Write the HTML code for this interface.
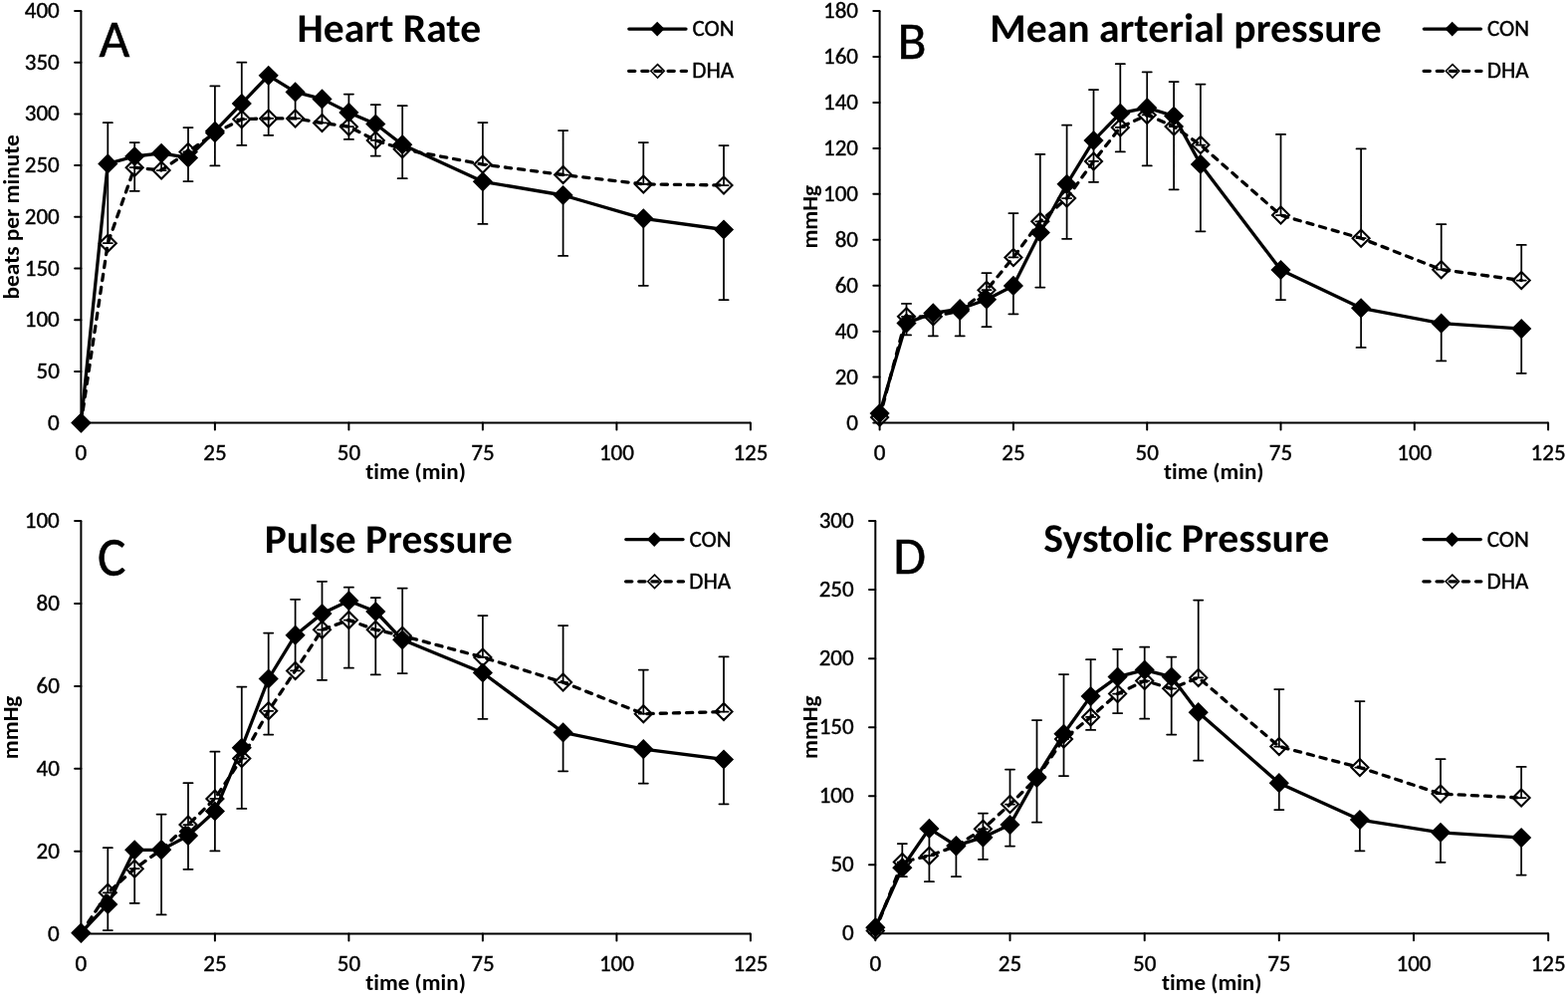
<!DOCTYPE html>
<html><head><meta charset="utf-8"><title>Hemodynamic responses: CON vs DHA</title>
<style>
html,body{margin:0;padding:0;background:#fff;}
svg{display:block;}
text{font-family:Carlito, 'Liberation Sans', sans-serif;fill:#000;font-variant-ligatures:none;font-feature-settings:'liga' 0,'clig' 0;}
.ax{fill:none;stroke:#000;stroke-width:2;}
.tk{fill:none;stroke:#000;stroke-width:2;stroke-linecap:round;}
.yl{font-size:23px;text-anchor:end;stroke:#000;stroke-width:0.4px;}
.xl{font-size:23px;text-anchor:middle;stroke:#000;stroke-width:0.4px;}
.at{font-size:23px;font-weight:bold;text-anchor:middle;}
.ti{font-size:41.5px;text-rendering:geometricPrecision;font-weight:bold;}
.lt{font-size:53.3px;stroke:#000;stroke-width:0.5px;}
.lg{font-size:23px;stroke:#000;stroke-width:0.4px;}
.eb{fill:none;stroke:#000;stroke-width:1.75;stroke-linecap:round;}
.dl{fill:none;stroke:#000;stroke-width:3.3;stroke-dasharray:6.2 6.95;stroke-linecap:round;stroke-linejoin:round;}
.cl{fill:none;stroke:#000;stroke-width:3.3;stroke-linecap:round;stroke-linejoin:round;}
.om{fill:none;stroke:#000;stroke-width:2.1;stroke-linejoin:miter;}
.fm{fill:#000;stroke:none;}
.lom{fill:none;stroke:#000;stroke-width:1.6;stroke-linejoin:miter;}
</style></head>
<body>
<svg width="1575" height="1001" viewBox="0 0 1575 1001">
<rect width="1575" height="1001" fill="#fff"/>
<g id="pA">
<path d="M81.4 11V424.6H753.9" class="ax"/>
<path d="M75.1 424.6H81.4M75.1 372.9H81.4M75.1 321.2H81.4M75.1 269.5H81.4M75.1 217.8H81.4M75.1 166.1H81.4M75.1 114.4H81.4M75.1 62.7H81.4M75.1 11H81.4M81.4 424.6V431.6M215.9 424.6V431.6M350.4 424.6V431.6M484.9 424.6V431.6M619.4 424.6V431.6M753.9 424.6V431.6" class="tk"/>
<text x="59.8" y="431.6" class="yl" textLength="11.7" lengthAdjust="spacingAndGlyphs">0</text>
<text x="59.8" y="379.9" class="yl" textLength="23.3" lengthAdjust="spacingAndGlyphs">50</text>
<text x="59.8" y="328.2" class="yl" textLength="35" lengthAdjust="spacingAndGlyphs">100</text>
<text x="59.8" y="276.5" class="yl" textLength="35" lengthAdjust="spacingAndGlyphs">150</text>
<text x="59.8" y="224.8" class="yl" textLength="35" lengthAdjust="spacingAndGlyphs">200</text>
<text x="59.8" y="173.1" class="yl" textLength="35" lengthAdjust="spacingAndGlyphs">250</text>
<text x="59.8" y="121.4" class="yl" textLength="35" lengthAdjust="spacingAndGlyphs">300</text>
<text x="59.8" y="69.7" class="yl" textLength="35" lengthAdjust="spacingAndGlyphs">350</text>
<text x="59.8" y="18" class="yl" textLength="35" lengthAdjust="spacingAndGlyphs">400</text>
<text x="81.4" y="461.8" class="xl" textLength="11.7" lengthAdjust="spacingAndGlyphs">0</text>
<text x="215.9" y="461.8" class="xl" textLength="23.3" lengthAdjust="spacingAndGlyphs">25</text>
<text x="350.4" y="461.8" class="xl" textLength="23.3" lengthAdjust="spacingAndGlyphs">50</text>
<text x="484.9" y="461.8" class="xl" textLength="23.3" lengthAdjust="spacingAndGlyphs">75</text>
<text x="619.4" y="461.8" class="xl" textLength="35" lengthAdjust="spacingAndGlyphs">100</text>
<text x="753.9" y="461.8" class="xl" textLength="35" lengthAdjust="spacingAndGlyphs">125</text>
<text transform="translate(18.9 217.8) rotate(-90)" class="at" textLength="165.2" lengthAdjust="spacingAndGlyphs">beats per minute</text>
<text x="417.6" y="481.2" class="at" text-anchor="middle" textLength="100.5" lengthAdjust="spacingAndGlyphs">time (min)</text>
<text transform="translate(298.5 41.7) scale(1 0.985)" class="ti" textLength="184.6" lengthAdjust="spacingAndGlyphs">Heart Rate</text>
<text transform="translate(99.5 56.9) scale(1.0 1.0)" class="lt" textLength="30.84" lengthAdjust="spacingAndGlyphs">A</text>
<path d="M108.3 244.2V123.2M103.7 123.2H112.9M135.2 168.2V143M130.6 143H139.8M135.2 157V191.8M130.6 191.8H139.8M162.1 171V153.8M189 152.4V128.1M184.4 128.1H193.6M189 158.4V182M184.4 182H193.6M215.9 133.5V86.4M211.3 86.4H220.5M215.9 131.7V166.4M211.3 166.4H220.5M242.8 119.7V62.7M238.2 62.7H247.4M242.8 103.9V145.9M238.2 145.9H247.4M269.7 118.9V75.8M269.7 75.8V135.8M265.1 135.8H274.3M296.6 118.9V92.4M323.5 123.4V99.4M350.4 127.2V94.5M345.8 94.5H355M350.4 112.9V139.9M345.8 139.9H355M377.3 140.9V105.2M372.7 105.2H381.9M377.3 124.5V156.5M372.7 156.5H381.9M404.2 149.7V106.2M399.6 106.2H408.8M404.2 145.2V179.2M399.6 179.2H408.8M484.9 165.1V123M480.3 123H489.5M484.9 182.3V224.9M480.3 224.9H489.5M565.6 175.5V131M561 131H570.2M565.6 196V256.9M561 256.9H570.2M646.3 184.9V143M641.7 143H650.9M646.3 219.3V286.8M641.7 286.8H650.9M727 186V146M722.4 146H731.6M727 230.5V301.2M722.4 301.2H731.6" class="eb"/>
<polyline points="81.4,424.6 108.3,244.2 135.2,168.2 162.1,171 189,152.4 215.9,133.5 242.8,119.7 269.7,118.9 296.6,118.9 323.5,123.4 350.4,127.2 377.3,140.9 404.2,149.7 484.9,165.1 565.6,175.5 646.3,184.9 727,186" class="dl"/>
<polyline points="81.4,424.6 108.3,164.4 135.2,157 162.1,153.8 189,158.4 215.9,131.7 242.8,103.9 269.7,75.8 296.6,92.4 323.5,99.4 350.4,112.9 377.3,124.5 404.2,145.2 484.9,182.3 565.6,196 646.3,219.3 727,230.5" class="cl"/>
<path d="M81.4 416.1L89.9 424.6L81.4 433.1L72.9 424.6ZM108.3 235.7L116.8 244.2L108.3 252.7L99.8 244.2ZM135.2 159.7L143.7 168.2L135.2 176.7L126.7 168.2ZM162.1 162.5L170.6 171L162.1 179.5L153.6 171ZM189 143.9L197.5 152.4L189 160.9L180.5 152.4ZM215.9 125L224.4 133.5L215.9 142L207.4 133.5ZM242.8 111.2L251.3 119.7L242.8 128.2L234.3 119.7ZM269.7 110.4L278.2 118.9L269.7 127.4L261.2 118.9ZM296.6 110.4L305.1 118.9L296.6 127.4L288.1 118.9ZM323.5 114.9L332 123.4L323.5 131.9L315 123.4ZM350.4 118.7L358.9 127.2L350.4 135.7L341.9 127.2ZM377.3 132.4L385.8 140.9L377.3 149.4L368.8 140.9ZM404.2 141.2L412.7 149.7L404.2 158.2L395.7 149.7ZM484.9 156.6L493.4 165.1L484.9 173.6L476.4 165.1ZM565.6 167L574.1 175.5L565.6 184L557.1 175.5ZM646.3 176.4L654.8 184.9L646.3 193.4L637.8 184.9ZM727 177.5L735.5 186L727 194.5L718.5 186Z" class="om"/>
<path d="M103.7 244.2H112.9M130.6 168.2H139.8M157.5 171H166.7M184.4 152.4H193.6M211.3 133.5H220.5M238.2 119.7H247.4M265.1 118.9H274.3M292 118.9H301.2M318.9 123.4H328.1M345.8 127.2H355M372.7 140.9H381.9M399.6 149.7H408.8M480.3 165.1H489.5M561 175.5H570.2M641.7 184.9H650.9M722.4 186H731.6" class="eb"/>
<path d="M81.4 414.5L91.5 424.6L81.4 434.7L71.3 424.6ZM108.3 154.3L118.4 164.4L108.3 174.5L98.2 164.4ZM135.2 146.9L145.3 157L135.2 167.1L125.1 157ZM162.1 143.7L172.2 153.8L162.1 163.9L152 153.8ZM189 148.3L199.1 158.4L189 168.5L178.9 158.4ZM215.9 121.6L226 131.7L215.9 141.8L205.8 131.7ZM242.8 93.8L252.9 103.9L242.8 114L232.7 103.9ZM269.7 65.7L279.8 75.8L269.7 85.9L259.6 75.8ZM296.6 82.3L306.7 92.4L296.6 102.5L286.5 92.4ZM323.5 89.3L333.6 99.4L323.5 109.5L313.4 99.4ZM350.4 102.8L360.5 112.9L350.4 123L340.3 112.9ZM377.3 114.4L387.4 124.5L377.3 134.6L367.2 124.5ZM404.2 135.1L414.3 145.2L404.2 155.3L394.1 145.2ZM484.9 172.2L495 182.3L484.9 192.4L474.8 182.3ZM565.6 185.9L575.7 196L565.6 206.1L555.5 196ZM646.3 209.2L656.4 219.3L646.3 229.4L636.2 219.3ZM727 220.4L737.1 230.5L727 240.6L716.9 230.5Z" class="fm"/>
<path d="M631.8 29.1H689" class="cl"/>
<path d="M660.2 21.8L667.5 29.1L660.2 36.4L652.9 29.1Z" class="fm"/>
<path d="M631.6 71.3H689.5" class="dl"/>
<path d="M660.5 64.6L667.2 71.3L660.5 78L653.8 71.3Z" class="lom"/>
<text x="695.4" y="36" class="lg" textLength="42.1" lengthAdjust="spacingAndGlyphs">CON</text>
<text x="695.3" y="78.1" class="lg" textLength="41.8" lengthAdjust="spacingAndGlyphs">DHA</text>
</g>
<g id="pB">
<path d="M883.6 11V424.6H1555.1" class="ax"/>
<path d="M877.3 424.6H883.6M877.3 378.6H883.6M877.3 332.7H883.6M877.3 286.7H883.6M877.3 240.8H883.6M877.3 194.8H883.6M877.3 148.9H883.6M877.3 102.9H883.6M877.3 57H883.6M877.3 11H883.6M883.6 424.6V431.6M1017.9 424.6V431.6M1152.2 424.6V431.6M1286.5 424.6V431.6M1420.8 424.6V431.6M1555.1 424.6V431.6" class="tk"/>
<text x="862" y="431.6" class="yl" textLength="11.7" lengthAdjust="spacingAndGlyphs">0</text>
<text x="862" y="385.6" class="yl" textLength="23.3" lengthAdjust="spacingAndGlyphs">20</text>
<text x="862" y="339.7" class="yl" textLength="23.3" lengthAdjust="spacingAndGlyphs">40</text>
<text x="862" y="293.7" class="yl" textLength="23.3" lengthAdjust="spacingAndGlyphs">60</text>
<text x="862" y="247.8" class="yl" textLength="23.3" lengthAdjust="spacingAndGlyphs">80</text>
<text x="862" y="201.8" class="yl" textLength="35" lengthAdjust="spacingAndGlyphs">100</text>
<text x="862" y="155.9" class="yl" textLength="35" lengthAdjust="spacingAndGlyphs">120</text>
<text x="862" y="109.9" class="yl" textLength="35" lengthAdjust="spacingAndGlyphs">140</text>
<text x="862" y="64" class="yl" textLength="35" lengthAdjust="spacingAndGlyphs">160</text>
<text x="862" y="18" class="yl" textLength="35" lengthAdjust="spacingAndGlyphs">180</text>
<text x="883.6" y="461.8" class="xl" textLength="11.7" lengthAdjust="spacingAndGlyphs">0</text>
<text x="1017.9" y="461.8" class="xl" textLength="23.3" lengthAdjust="spacingAndGlyphs">25</text>
<text x="1152.2" y="461.8" class="xl" textLength="23.3" lengthAdjust="spacingAndGlyphs">50</text>
<text x="1286.5" y="461.8" class="xl" textLength="23.3" lengthAdjust="spacingAndGlyphs">75</text>
<text x="1420.8" y="461.8" class="xl" textLength="35" lengthAdjust="spacingAndGlyphs">100</text>
<text x="1555.1" y="461.8" class="xl" textLength="35" lengthAdjust="spacingAndGlyphs">125</text>
<text transform="translate(821.1 217.8) rotate(-90)" class="at" textLength="63.6" lengthAdjust="spacingAndGlyphs">mmHg</text>
<text x="1219.3" y="481.2" class="at" text-anchor="middle" textLength="100.5" lengthAdjust="spacingAndGlyphs">time (min)</text>
<text transform="translate(994.3 41.6) scale(1 0.985)" class="ti" textLength="393.5" lengthAdjust="spacingAndGlyphs">Mean arterial pressure</text>
<text transform="translate(901.5 59.3) scale(1.05 1.0)" class="lt" textLength="27.61" lengthAdjust="spacingAndGlyphs">B</text>
<path d="M910.5 317.8V304.9M905.9 304.9H915.1M910.5 324.4V336.4M905.9 336.4H915.1M937.3 317.8V314.4M937.3 314.4V337.3M932.7 337.3H941.9M964.2 312.1V310.2M964.2 310.2V337.3M959.6 337.3H968.8M991 291.2V274.2M986.4 274.2H995.6M991 300.7V328.2M986.4 328.2H995.6M1017.9 258.4V214M1013.3 214H1022.5M1017.9 286.9V315.3M1013.3 315.3H1022.5M1044.8 222.3V154.9M1040.2 154.9H1049.4M1044.8 233.5V288.5M1040.2 288.5H1049.4M1071.6 199.1V125.7M1067 125.7H1076.2M1071.6 184.8V239.8M1067 239.8H1076.2M1098.5 161.9V90M1093.9 90H1103.1M1098.5 141.1V182.8M1093.9 182.8H1103.1M1125.3 127.9V64.2M1120.7 64.2H1129.9M1125.3 113.7V152.4M1120.7 152.4H1129.9M1152.2 115.4V72.3M1147.6 72.3H1156.8M1152.2 108.2V166.4M1147.6 166.4H1156.8M1179.1 127V82M1174.5 82H1183.7M1179.1 116.5V190.3M1174.5 190.3H1183.7M1205.9 145.6V84.5M1201.3 84.5H1210.5M1205.9 164.9V232.3M1201.3 232.3H1210.5M1286.5 216.1V134.9M1281.9 134.9H1291.1M1286.5 271V301M1281.9 301H1291.1M1367.1 239.2V149.4M1362.5 149.4H1371.7M1367.1 309.3V348.9M1362.5 348.9H1371.7M1447.7 270.7V225.2M1443.1 225.2H1452.3M1447.7 324.7V362.4M1443.1 362.4H1452.3M1528.2 281.5V245.9M1523.6 245.9H1532.8M1528.2 330.1V374.8M1523.6 374.8H1532.8" class="eb"/>
<polyline points="883.6,419 910.5,317.8 937.3,317.8 964.2,312.1 991,291.2 1017.9,258.4 1044.8,222.3 1071.6,199.1 1098.5,161.9 1125.3,127.9 1152.2,115.4 1179.1,127 1205.9,145.6 1286.5,216.1 1367.1,239.2 1447.7,270.7 1528.2,281.5" class="dl"/>
<polyline points="883.6,415 910.5,324.4 937.3,314.4 964.2,310.2 991,300.7 1017.9,286.9 1044.8,233.5 1071.6,184.8 1098.5,141.1 1125.3,113.7 1152.2,108.2 1179.1,116.5 1205.9,164.9 1286.5,271 1367.1,309.3 1447.7,324.7 1528.2,330.1" class="cl"/>
<path d="M883.6 410.5L892.1 419L883.6 427.5L875.1 419ZM910.5 309.3L919 317.8L910.5 326.3L902 317.8ZM937.3 309.3L945.8 317.8L937.3 326.3L928.8 317.8ZM964.2 303.6L972.7 312.1L964.2 320.6L955.7 312.1ZM991 282.7L999.5 291.2L991 299.7L982.5 291.2ZM1017.9 249.9L1026.4 258.4L1017.9 266.9L1009.4 258.4ZM1044.8 213.8L1053.3 222.3L1044.8 230.8L1036.3 222.3ZM1071.6 190.6L1080.1 199.1L1071.6 207.6L1063.1 199.1ZM1098.5 153.4L1107 161.9L1098.5 170.4L1090 161.9ZM1125.3 119.4L1133.8 127.9L1125.3 136.4L1116.8 127.9ZM1152.2 106.9L1160.7 115.4L1152.2 123.9L1143.7 115.4ZM1179.1 118.5L1187.6 127L1179.1 135.5L1170.6 127ZM1205.9 137.1L1214.4 145.6L1205.9 154.1L1197.4 145.6ZM1286.5 207.6L1295 216.1L1286.5 224.6L1278 216.1ZM1367.1 230.7L1375.6 239.2L1367.1 247.7L1358.6 239.2ZM1447.7 262.2L1456.2 270.7L1447.7 279.2L1439.2 270.7ZM1528.2 273L1536.7 281.5L1528.2 290L1519.7 281.5Z" class="om"/>
<path d="M905.9 317.8H915.1M932.7 317.8H941.9M959.6 312.1H968.8M986.4 291.2H995.6M1013.3 258.4H1022.5M1040.2 222.3H1049.4M1067 199.1H1076.2M1093.9 161.9H1103.1M1120.7 127.9H1129.9M1147.6 115.4H1156.8M1174.5 127H1183.7M1201.3 145.6H1210.5M1281.9 216.1H1291.1M1362.5 239.2H1371.7M1443.1 270.7H1452.3M1523.6 281.5H1532.8" class="eb"/>
<path d="M883.6 404.9L893.7 415L883.6 425.1L873.5 415ZM910.5 314.3L920.6 324.4L910.5 334.5L900.4 324.4ZM937.3 304.3L947.4 314.4L937.3 324.5L927.2 314.4ZM964.2 300.1L974.3 310.2L964.2 320.3L954.1 310.2ZM991 290.6L1001.1 300.7L991 310.8L980.9 300.7ZM1017.9 276.8L1028 286.9L1017.9 297L1007.8 286.9ZM1044.8 223.4L1054.9 233.5L1044.8 243.6L1034.7 233.5ZM1071.6 174.7L1081.7 184.8L1071.6 194.9L1061.5 184.8ZM1098.5 131L1108.6 141.1L1098.5 151.2L1088.4 141.1ZM1125.3 103.6L1135.4 113.7L1125.3 123.8L1115.2 113.7ZM1152.2 98.1L1162.3 108.2L1152.2 118.3L1142.1 108.2ZM1179.1 106.4L1189.2 116.5L1179.1 126.6L1169 116.5ZM1205.9 154.8L1216 164.9L1205.9 175L1195.8 164.9ZM1286.5 260.9L1296.6 271L1286.5 281.1L1276.4 271ZM1367.1 299.2L1377.2 309.3L1367.1 319.4L1357 309.3ZM1447.7 314.6L1457.8 324.7L1447.7 334.8L1437.6 324.7ZM1528.2 320L1538.3 330.1L1528.2 340.2L1518.1 330.1Z" class="fm"/>
<path d="M1430.3 29.1H1487.5" class="cl"/>
<path d="M1458.7 21.8L1466 29.1L1458.7 36.4L1451.4 29.1Z" class="fm"/>
<path d="M1430.1 71.3H1488" class="dl"/>
<path d="M1459 64.6L1465.7 71.3L1459 78L1452.3 71.3Z" class="lom"/>
<text x="1493.9" y="36" class="lg" textLength="42.1" lengthAdjust="spacingAndGlyphs">CON</text>
<text x="1493.8" y="78.1" class="lg" textLength="41.8" lengthAdjust="spacingAndGlyphs">DHA</text>
</g>
<g id="pC">
<path d="M81.4 523.1V937.6H753.9" class="ax"/>
<path d="M75.1 937.6H81.4M75.1 854.7H81.4M75.1 771.8H81.4M75.1 688.9H81.4M75.1 606H81.4M75.1 523.1H81.4M81.4 937.6V944.6M215.9 937.6V944.6M350.4 937.6V944.6M484.9 937.6V944.6M619.4 937.6V944.6M753.9 937.6V944.6" class="tk"/>
<text x="59.8" y="944.6" class="yl" textLength="11.7" lengthAdjust="spacingAndGlyphs">0</text>
<text x="59.8" y="861.7" class="yl" textLength="23.3" lengthAdjust="spacingAndGlyphs">20</text>
<text x="59.8" y="778.8" class="yl" textLength="23.3" lengthAdjust="spacingAndGlyphs">40</text>
<text x="59.8" y="695.9" class="yl" textLength="23.3" lengthAdjust="spacingAndGlyphs">60</text>
<text x="59.8" y="613" class="yl" textLength="23.3" lengthAdjust="spacingAndGlyphs">80</text>
<text x="59.8" y="530.1" class="yl" textLength="35" lengthAdjust="spacingAndGlyphs">100</text>
<text x="81.4" y="974.8" class="xl" textLength="11.7" lengthAdjust="spacingAndGlyphs">0</text>
<text x="215.9" y="974.8" class="xl" textLength="23.3" lengthAdjust="spacingAndGlyphs">25</text>
<text x="350.4" y="974.8" class="xl" textLength="23.3" lengthAdjust="spacingAndGlyphs">50</text>
<text x="484.9" y="974.8" class="xl" textLength="23.3" lengthAdjust="spacingAndGlyphs">75</text>
<text x="619.4" y="974.8" class="xl" textLength="35" lengthAdjust="spacingAndGlyphs">100</text>
<text x="753.9" y="974.8" class="xl" textLength="35" lengthAdjust="spacingAndGlyphs">125</text>
<text transform="translate(18.4 730.4) rotate(-90)" class="at" textLength="63.6" lengthAdjust="spacingAndGlyphs">mmHg</text>
<text x="417.6" y="994" class="at" text-anchor="middle" textLength="100.5" lengthAdjust="spacingAndGlyphs">time (min)</text>
<text transform="translate(265.8 554.5) scale(1 0.985)" class="ti" textLength="249" lengthAdjust="spacingAndGlyphs">Pulse Pressure</text>
<text transform="translate(97.9 578.3) scale(1.068 1.04)" class="lt" textLength="26.61" lengthAdjust="spacingAndGlyphs">C</text>
<path d="M108.3 896.3V851.2M103.7 851.2H112.9M108.3 907.9V934.1M103.7 934.1H112.9M135.2 872.2V853.3M135.2 853.3V906.8M130.6 906.8H139.8M162.1 853V817.6M157.5 817.6H166.7M162.1 853.3V918.4M157.5 918.4H166.7M189 828.1V786.2M184.4 786.2H193.6M189 839.1V872.8M184.4 872.8H193.6M215.9 801.9V754.7M211.3 754.7H220.5M215.9 814.5V854.4M211.3 854.4H220.5M242.8 761.5V689.6M238.2 689.6H247.4M242.8 750.8V811.9M238.2 811.9H247.4M269.7 713.8V635.6M265.1 635.6H274.3M269.7 681.5V737.6M265.1 737.6H274.3M296.6 673.4V601.8M292 601.8H301.2M323.5 632.3V583.8M318.9 583.8H328.1M323.5 616.1V682.8M318.9 682.8H328.1M350.4 622.6V589.7M345.8 589.7H355M350.4 603.2V670.7M345.8 670.7H355M377.3 632.3V600M372.7 600H381.9M377.3 614V677.4M372.7 677.4H381.9M404.2 638.3V590.5M399.6 590.5H408.8M404.2 642.3V676.1M399.6 676.1H408.8M484.9 659.9V618M480.3 618H489.5M484.9 675.5V721.8M480.3 721.8H489.5M565.6 685.1V628M561 628H570.2M565.6 735.4V774.3M561 774.3H570.2M646.3 716.7V672.6M641.7 672.6H650.9M646.3 752.2V786.5M641.7 786.5H650.9M727 714.6V659.4M722.4 659.4H731.6M727 762.5V807.3M722.4 807.3H731.6" class="eb"/>
<polyline points="81.4,937 108.3,896.3 135.2,872.2 162.1,853 189,828.1 215.9,801.9 242.8,761.5 269.7,713.8 296.6,673.4 323.5,632.3 350.4,622.6 377.3,632.3 404.2,638.3 484.9,659.9 565.6,685.1 646.3,716.7 727,714.6" class="dl"/>
<polyline points="81.4,936.5 108.3,907.9 135.2,853.3 162.1,853.3 189,839.1 215.9,814.5 242.8,750.8 269.7,681.5 296.6,637.7 323.5,616.1 350.4,603.2 377.3,614 404.2,642.3 484.9,675.5 565.6,735.4 646.3,752.2 727,762.5" class="cl"/>
<path d="M81.4 928.5L89.9 937L81.4 945.5L72.9 937ZM108.3 887.8L116.8 896.3L108.3 904.8L99.8 896.3ZM135.2 863.7L143.7 872.2L135.2 880.7L126.7 872.2ZM162.1 844.5L170.6 853L162.1 861.5L153.6 853ZM189 819.6L197.5 828.1L189 836.6L180.5 828.1ZM215.9 793.4L224.4 801.9L215.9 810.4L207.4 801.9ZM242.8 753L251.3 761.5L242.8 770L234.3 761.5ZM269.7 705.3L278.2 713.8L269.7 722.3L261.2 713.8ZM296.6 664.9L305.1 673.4L296.6 681.9L288.1 673.4ZM323.5 623.8L332 632.3L323.5 640.8L315 632.3ZM350.4 614.1L358.9 622.6L350.4 631.1L341.9 622.6ZM377.3 623.8L385.8 632.3L377.3 640.8L368.8 632.3ZM404.2 629.8L412.7 638.3L404.2 646.8L395.7 638.3ZM484.9 651.4L493.4 659.9L484.9 668.4L476.4 659.9ZM565.6 676.6L574.1 685.1L565.6 693.6L557.1 685.1ZM646.3 708.2L654.8 716.7L646.3 725.2L637.8 716.7ZM727 706.1L735.5 714.6L727 723.1L718.5 714.6Z" class="om"/>
<path d="M103.7 896.3H112.9M130.6 872.2H139.8M157.5 853H166.7M184.4 828.1H193.6M211.3 801.9H220.5M238.2 761.5H247.4M265.1 713.8H274.3M292 673.4H301.2M318.9 632.3H328.1M345.8 622.6H355M372.7 632.3H381.9M399.6 638.3H408.8M480.3 659.9H489.5M561 685.1H570.2M641.7 716.7H650.9M722.4 714.6H731.6" class="eb"/>
<path d="M81.4 926.4L91.5 936.5L81.4 946.6L71.3 936.5ZM108.3 897.8L118.4 907.9L108.3 918L98.2 907.9ZM135.2 843.2L145.3 853.3L135.2 863.4L125.1 853.3ZM162.1 843.2L172.2 853.3L162.1 863.4L152 853.3ZM189 829L199.1 839.1L189 849.2L178.9 839.1ZM215.9 804.4L226 814.5L215.9 824.6L205.8 814.5ZM242.8 740.7L252.9 750.8L242.8 760.9L232.7 750.8ZM269.7 671.4L279.8 681.5L269.7 691.6L259.6 681.5ZM296.6 627.6L306.7 637.7L296.6 647.8L286.5 637.7ZM323.5 606L333.6 616.1L323.5 626.2L313.4 616.1ZM350.4 593.1L360.5 603.2L350.4 613.3L340.3 603.2ZM377.3 603.9L387.4 614L377.3 624.1L367.2 614ZM404.2 632.2L414.3 642.3L404.2 652.4L394.1 642.3ZM484.9 665.4L495 675.5L484.9 685.6L474.8 675.5ZM565.6 725.3L575.7 735.4L565.6 745.5L555.5 735.4ZM646.3 742.1L656.4 752.2L646.3 762.3L636.2 752.2ZM727 752.4L737.1 762.5L727 772.6L716.9 762.5Z" class="fm"/>
<path d="M628.8 541.6H686" class="cl"/>
<path d="M657.2 534.3L664.5 541.6L657.2 548.9L649.9 541.6Z" class="fm"/>
<path d="M628.6 583.8H686.5" class="dl"/>
<path d="M657.5 577.1L664.2 583.8L657.5 590.5L650.8 583.8Z" class="lom"/>
<text x="692.4" y="548.5" class="lg" textLength="42.1" lengthAdjust="spacingAndGlyphs">CON</text>
<text x="692.3" y="590.6" class="lg" textLength="41.8" lengthAdjust="spacingAndGlyphs">DHA</text>
</g>
<g id="pD">
<path d="M879.3 523.1V937.3H1555.2" class="ax"/>
<path d="M873 937.3H879.3M873 868.3H879.3M873 799.2H879.3M873 730.2H879.3M873 661.2H879.3M873 592.1H879.3M873 523.1H879.3M879.3 937.3V944.3M1014.5 937.3V944.3M1149.7 937.3V944.3M1284.8 937.3V944.3M1420 937.3V944.3M1555.2 937.3V944.3" class="tk"/>
<text x="857.7" y="944.3" class="yl" textLength="11.7" lengthAdjust="spacingAndGlyphs">0</text>
<text x="857.7" y="875.3" class="yl" textLength="23.3" lengthAdjust="spacingAndGlyphs">50</text>
<text x="857.7" y="806.2" class="yl" textLength="35" lengthAdjust="spacingAndGlyphs">100</text>
<text x="857.7" y="737.2" class="yl" textLength="35" lengthAdjust="spacingAndGlyphs">150</text>
<text x="857.7" y="668.2" class="yl" textLength="35" lengthAdjust="spacingAndGlyphs">200</text>
<text x="857.7" y="599.1" class="yl" textLength="35" lengthAdjust="spacingAndGlyphs">250</text>
<text x="857.7" y="530.1" class="yl" textLength="35" lengthAdjust="spacingAndGlyphs">300</text>
<text x="879.3" y="974.5" class="xl" textLength="11.7" lengthAdjust="spacingAndGlyphs">0</text>
<text x="1014.5" y="974.5" class="xl" textLength="23.3" lengthAdjust="spacingAndGlyphs">25</text>
<text x="1149.7" y="974.5" class="xl" textLength="23.3" lengthAdjust="spacingAndGlyphs">50</text>
<text x="1284.8" y="974.5" class="xl" textLength="23.3" lengthAdjust="spacingAndGlyphs">75</text>
<text x="1420" y="974.5" class="xl" textLength="35" lengthAdjust="spacingAndGlyphs">100</text>
<text x="1555.2" y="974.5" class="xl" textLength="35" lengthAdjust="spacingAndGlyphs">125</text>
<text transform="translate(821.1 730.2) rotate(-90)" class="at" textLength="63.6" lengthAdjust="spacingAndGlyphs">mmHg</text>
<text x="1217.2" y="994" class="at" text-anchor="middle" textLength="100.5" lengthAdjust="spacingAndGlyphs">time (min)</text>
<text transform="translate(1048.3 554.3) scale(1 0.985)" class="ti" textLength="287" lengthAdjust="spacingAndGlyphs">Systolic Pressure</text>
<text transform="translate(897.2 576) scale(1.026 1.0)" class="lt" textLength="31.96" lengthAdjust="spacingAndGlyphs">D</text>
<path d="M906.3 865.5V847M901.7 847H910.9M906.3 871.2V880.2M901.7 880.2H910.9M933.4 859.2V831.9M933.4 831.9V885.2M928.8 885.2H938M960.4 849.5V849.1M960.4 849.1V880.2M955.8 880.2H965M987.4 832.3V816.6M982.8 816.6H992M987.4 840.7V862.8M982.8 862.8H992M1014.5 807.6V772.5M1009.9 772.5H1019.1M1014.5 828.1V849.5M1009.9 849.5H1019.1M1041.5 781V723M1036.9 723H1046.1M1041.5 780V825.7M1036.9 825.7H1046.1M1068.5 742V677M1063.9 677H1073.1M1068.5 736.8V779.1M1063.9 779.1H1073.1M1095.6 719.9V662.2M1091 662.2H1100.2M1095.6 699.1V732.9M1091 732.9H1100.2M1122.6 696.5V651.8M1118 651.8H1127.2M1122.6 679.6V716M1118 716H1127.2M1149.7 683.5V649.7M1145.1 649.7H1154.2M1149.7 672.6V721.7M1145.1 721.7H1154.2M1176.7 691.3V659.6M1172.1 659.6H1181.3M1176.7 679.6V737.5M1172.1 737.5H1181.3M1203.7 680.4V602.5M1199.1 602.5H1208.3M1203.7 715.2V763.7M1199.1 763.7H1208.3M1284.8 749.5V692M1280.2 692H1289.4M1284.8 786.2V813M1280.2 813H1289.4M1365.9 770.6V704M1361.3 704H1370.5M1365.9 823.1V854.3M1361.3 854.3H1370.5M1447 797V762.2M1442.4 762.2H1451.6M1447 835.8V865.8M1442.4 865.8H1451.6M1528.1 801V769.9M1523.5 769.9H1532.7M1528.1 841.1V878.5M1523.5 878.5H1532.7" class="eb"/>
<polyline points="879.3,934.5 906.3,865.5 933.4,859.2 960.4,849.5 987.4,832.3 1014.5,807.6 1041.5,781 1068.5,742 1095.6,719.9 1122.6,696.5 1149.7,683.5 1176.7,691.3 1203.7,680.4 1284.8,749.5 1365.9,770.6 1447,797 1528.1,801" class="dl"/>
<polyline points="879.3,931.2 906.3,871.2 933.4,831.9 960.4,849.1 987.4,840.7 1014.5,828.1 1041.5,780 1068.5,736.8 1095.6,699.1 1122.6,679.6 1149.7,672.6 1176.7,679.6 1203.7,715.2 1284.8,786.2 1365.9,823.1 1447,835.8 1528.1,841.1" class="cl"/>
<path d="M879.3 926L887.8 934.5L879.3 943L870.8 934.5ZM906.3 857L914.8 865.5L906.3 874L897.8 865.5ZM933.4 850.7L941.9 859.2L933.4 867.7L924.9 859.2ZM960.4 841L968.9 849.5L960.4 858L951.9 849.5ZM987.4 823.8L995.9 832.3L987.4 840.8L978.9 832.3ZM1014.5 799.1L1023 807.6L1014.5 816.1L1006 807.6ZM1041.5 772.5L1050 781L1041.5 789.5L1033 781ZM1068.5 733.5L1077 742L1068.5 750.5L1060 742ZM1095.6 711.4L1104.1 719.9L1095.6 728.4L1087.1 719.9ZM1122.6 688L1131.1 696.5L1122.6 705L1114.1 696.5ZM1149.7 675L1158.2 683.5L1149.7 692L1141.2 683.5ZM1176.7 682.8L1185.2 691.3L1176.7 699.8L1168.2 691.3ZM1203.7 671.9L1212.2 680.4L1203.7 688.9L1195.2 680.4ZM1284.8 741L1293.3 749.5L1284.8 758L1276.3 749.5ZM1365.9 762.1L1374.4 770.6L1365.9 779.1L1357.4 770.6ZM1447 788.5L1455.5 797L1447 805.5L1438.5 797ZM1528.1 792.5L1536.6 801L1528.1 809.5L1519.6 801Z" class="om"/>
<path d="M901.7 865.5H910.9M928.8 859.2H938M955.8 849.5H965M982.8 832.3H992M1009.9 807.6H1019.1M1036.9 781H1046.1M1063.9 742H1073.1M1091 719.9H1100.2M1118 696.5H1127.2M1145.1 683.5H1154.2M1172.1 691.3H1181.3M1199.1 680.4H1208.3M1280.2 749.5H1289.4M1361.3 770.6H1370.5M1442.4 797H1451.6M1523.5 801H1532.7" class="eb"/>
<path d="M879.3 921.1L889.4 931.2L879.3 941.3L869.2 931.2ZM906.3 861.1L916.4 871.2L906.3 881.3L896.2 871.2ZM933.4 821.8L943.5 831.9L933.4 842L923.3 831.9ZM960.4 839L970.5 849.1L960.4 859.2L950.3 849.1ZM987.4 830.6L997.5 840.7L987.4 850.8L977.3 840.7ZM1014.5 818L1024.6 828.1L1014.5 838.2L1004.4 828.1ZM1041.5 769.9L1051.6 780L1041.5 790.1L1031.4 780ZM1068.5 726.7L1078.6 736.8L1068.5 746.9L1058.4 736.8ZM1095.6 689L1105.7 699.1L1095.6 709.2L1085.5 699.1ZM1122.6 669.5L1132.7 679.6L1122.6 689.7L1112.5 679.6ZM1149.7 662.5L1159.8 672.6L1149.7 682.7L1139.6 672.6ZM1176.7 669.5L1186.8 679.6L1176.7 689.7L1166.6 679.6ZM1203.7 705.1L1213.8 715.2L1203.7 725.3L1193.6 715.2ZM1284.8 776.1L1294.9 786.2L1284.8 796.3L1274.7 786.2ZM1365.9 813L1376 823.1L1365.9 833.2L1355.8 823.1ZM1447 825.7L1457.1 835.8L1447 845.9L1436.9 835.8ZM1528.1 831L1538.2 841.1L1528.1 851.2L1518 841.1Z" class="fm"/>
<path d="M1430.1 541.6H1487.3" class="cl"/>
<path d="M1458.5 534.3L1465.8 541.6L1458.5 548.9L1451.2 541.6Z" class="fm"/>
<path d="M1429.9 583.8H1487.8" class="dl"/>
<path d="M1458.8 577.1L1465.5 583.8L1458.8 590.5L1452.1 583.8Z" class="lom"/>
<text x="1493.7" y="548.5" class="lg" textLength="42.1" lengthAdjust="spacingAndGlyphs">CON</text>
<text x="1493.6" y="590.6" class="lg" textLength="41.8" lengthAdjust="spacingAndGlyphs">DHA</text>
</g>
</svg>
</body></html>
